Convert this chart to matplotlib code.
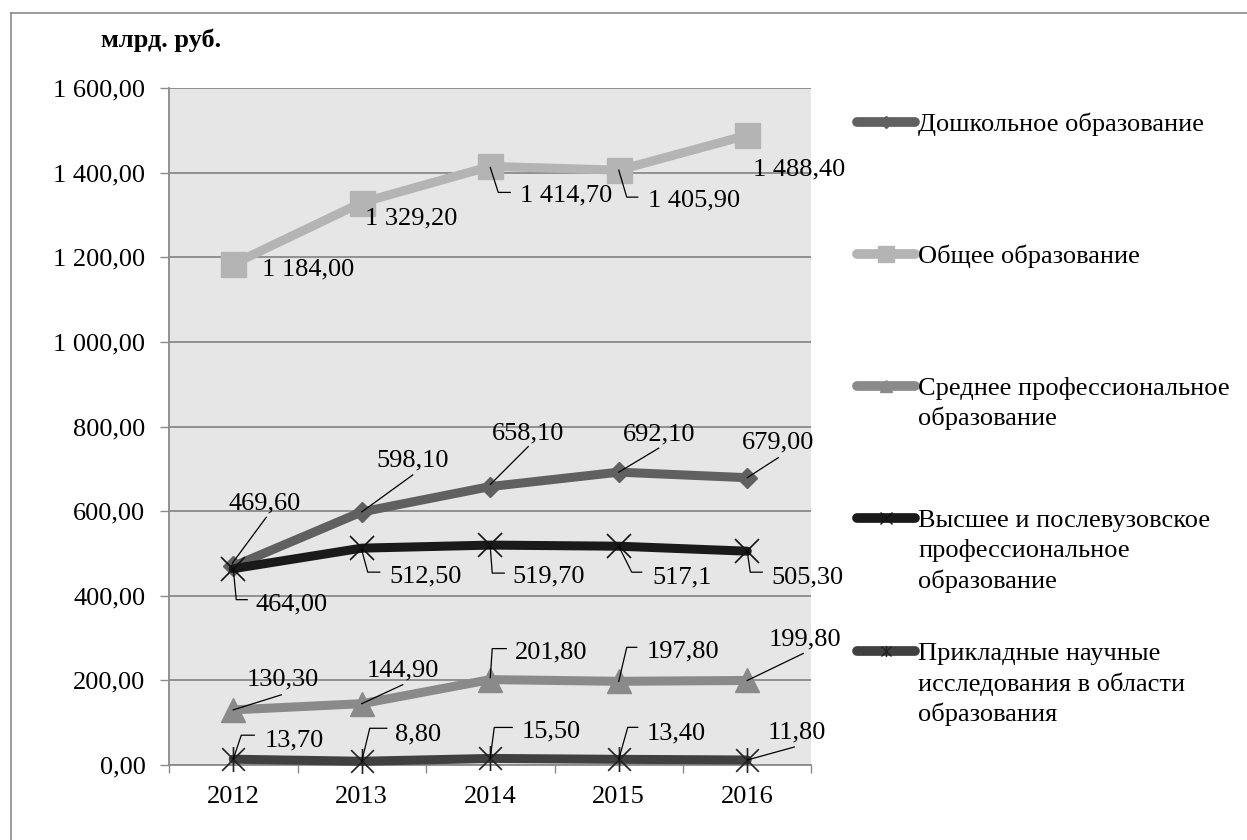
import matplotlib
matplotlib.use("Agg")
import matplotlib.pyplot as plt
from matplotlib.lines import Line2D
from matplotlib.path import Path
from matplotlib.ticker import FixedLocator, NullFormatter, FixedFormatter
import numpy as np

plt.rcParams['font.family'] = ['Liberation Serif', 'DejaVu Serif']

# ---------------- data ----------------
years = ["2012", "2013", "2014", "2015", "2016"]
series_names = [
    "Дошкольное образование",
    "Общее образование",
    "Среднее профессиональное\nобразование",
    "Высшее и послевузовское\nпрофессиональное\nобразование",
    "Прикладные научные\nисследования в области\nобразования",
]
preschool = [469.6, 598.1, 658.1, 692.1, 679.0]
general = [1184.0, 1329.2, 1414.7, 1405.9, 1488.4]
secondary_prof = [130.3, 144.9, 201.8, 197.8, 199.8]
higher = [464.0, 512.5, 519.7, 517.1, 505.3]
research = [13.7, 8.8, 15.5, 13.4, 11.8]
higher_decimals = [2, 2, 2, 1, 2]
y_ticks = [0, 200, 400, 600, 800, 1000, 1200, 1400, 1600]
unit_label = "млрд. руб."

# ---------------- layout / style ----------------
W, H = 1247, 840
fig = plt.figure(figsize=(W / 100, H / 100), dpi=100)
ax_l, ax_r, ax_t, ax_b = 169, 811.5, 88, 765
ax = fig.add_axes([ax_l / W, 1 - ax_b / H, (ax_r - ax_l) / W, (ax_b - ax_t) / H])
ax.set_facecolor('#e6e6e6')
ax.set_xlim(-0.5, len(years) - 0.5)
ax.set_ylim(0, 1600)

grid_c = '#8a8a8a'
ax.set_yticks(y_ticks)
ax.set_yticklabels([f"{v:,.2f}".replace(",", " ").replace(".", ",") for v in y_ticks])
ax.yaxis.grid(True, color=grid_c, lw=1.3, zorder=0)
ax.set_axisbelow(True)
ax.tick_params(axis='y', length=6.5, width=1.0, color=grid_c, pad=10.5, labelsize=19)

x = np.arange(len(years))
ax.xaxis.set_major_locator(FixedLocator(np.arange(-0.5, len(years) + 0.5, 1.0)))
ax.xaxis.set_major_formatter(NullFormatter())
ax.xaxis.set_minor_locator(FixedLocator(x))
ax.xaxis.set_minor_formatter(FixedFormatter(years))
ax.tick_params(axis='x', which='major', length=5.5, width=1.0, color=grid_c)
ax.tick_params(axis='x', which='minor', length=0, pad=15, labelsize=19)

for s in ['top', 'right']:
    ax.spines[s].set_visible(False)
for s in ['left', 'bottom']:
    ax.spines[s].set_color(grid_c)
    ax.spines[s].set_linewidth(1.3)

star_path = Path([(-0.5, -0.5), (0.5, 0.5), (-0.5, 0.5), (0.5, -0.5), (0, -0.55), (0, 0.55)],
                 [Path.MOVETO, Path.LINETO, Path.MOVETO, Path.LINETO, Path.MOVETO, Path.LINETO])

styles = [
    dict(color='#606060', marker='D', ms=10.5, mfc='#606060', mec='#606060'),
    dict(color='#b4b4b4', marker='s', ms=18, mfc='#b4b4b4', mec='#b4b4b4'),
    dict(color='#8a8a8a', marker='^', ms=17, mfc='#8a8a8a', mec='#8a8a8a'),
    dict(color='#1a1a1a', marker='x', ms=17, mec='#111111', mew=1.2),
    dict(color='#404040', marker=star_path, ms=18, mec='#222222', mew=1.2),
]
leg_styles = [
    dict(marker='D', ms=6, mfc='#606060', mec='#606060'),
    dict(marker='s', ms=12, mfc='#b4b4b4', mec='#b4b4b4'),
    dict(marker='^', ms=8, mfc='#8a8a8a', mec='#8a8a8a'),
    dict(marker='x', ms=8, mec='#111111', mew=1.0),
    dict(marker=star_path, ms=8, mec='#222222', mew=1.0),
]

all_series = [preschool, general, secondary_prof, higher, research]
all_decimals = [[2] * 5, [2] * 5, [2] * 5, higher_decimals, [2] * 5]

for vals, st in zip(all_series, styles):
    ax.plot(x, vals, lw=6.5, solid_capstyle='round', solid_joinstyle='round',
            zorder=3, clip_on=False, **st)

# data label placement: (dx, dy) of text left/center in pixels (screen, y down), leader path
label_layout = [
    [(-4.5, -66, [(-1, -3), (33, -49)]),
     (15, -54, [(0, 0), (51, -37)]),
     (1.5, -56, [(0, -2), (38, -40)]),
     (4, -41, [(0, 0), (40, -24)]),
     (-5, -38, [(0, 0), (31, -20)])],
    [(28.5, 2, None),
     (3, 12.4, None),
     (29.5, 25.6, [(0, 1), (8, 26), (20, 26)]),
     (29, 27, [(0, 0), (8, 27), (19, 27)]),
     (6, 31, None)],
    [(13.5, -33, [(0, 0), (48, -15)]),
     (5, -36, [(0, 0), (41, -19)]),
     (24.5, -30, [(0, -2), (2, -31), (16, -31)]),
     (28, -33, [(0, 0), (8, -34), (18, -34)]),
     (21, -44, [(0, 0), (56, -27)])],
    [(22.5, 33, [(0, 0), (3, 31), (14, 31)]),
     (28, 25, [(0, 2), (6, 24), (18, 24)]),
     (22.5, 28, [(0, 2), (2, 28), (14, 28)]),
     (34, 28, [(0, 0), (13, 26), (23, 26)]),
     (24, 23, [(0, 0), (3, 21), (15, 21)])],
    [(31.5, -22, [(0, 0), (8, -24), (21, -24)]),
     (33, -30, [(0, 0), (8, -33), (25, -33)]),
     (31.5, -30, [(0, 0), (4, -31), (22, -31)]),
     (28, -29, [(0, 0), (9, -32), (19, -32)]),
     (20, -31, [(0, 0), (47, -13)])],
]

inv = ax.transData.inverted()
for vals, decs, lay in zip(all_series, all_decimals, label_layout):
    for xi, v, d, (dx, dy, leader) in zip(x, vals, decs, lay):
        txt = f"{v:,.{d}f}".replace(",", " ").replace(".", ",")
        ax.annotate(txt, xy=(xi, v), xytext=(dx, -(dy + 9)), textcoords='offset pixels',
                    ha='left', va='baseline', fontsize=19, color='black', zorder=6,
                    annotation_clip=False)
        if leader:
            px, py = ax.transData.transform((xi, v))
            pts = np.array([(px + a, py - b) for a, b in leader])
            dpts = inv.transform(pts)
            ax.plot(dpts[:, 0], dpts[:, 1], color='black', lw=0.9, zorder=5, clip_on=False)

# unit label
fig.text(161 / W, 1 - 47 / H, unit_label, ha='center', va='baseline',
         fontsize=19, fontweight='bold')

# legend (manual, evenly spaced like the original)
leg_y = [122, 254, 386, 518, 651]
for name, st, lst, yy in zip(series_names, styles, leg_styles, leg_y):
    fy = 1 - yy / H
    fig.add_artist(Line2D([857 / W, 915 / W], [fy, fy], color=st['color'], lw=7,
                          solid_capstyle='round'))
    fig.add_artist(Line2D([886 / W], [fy], linestyle='none', **lst))
    for k, line in enumerate(name.split("\n")):
        fig.text(918 / W, 1 - (yy + 9 + 30.5 * k) / H, line, ha='left', va='baseline',
                 fontsize=19)

# outer frame (left and top edges visible)
fig.add_artist(Line2D([11 / W, 11 / W], [0, 1 - 13 / H], color='#8a8a8a', lw=1.2))
fig.add_artist(Line2D([11 / W, 1], [1 - 13 / H, 1 - 13 / H], color='#8a8a8a', lw=1.2))

fig.savefig("out.png", dpi=100)
